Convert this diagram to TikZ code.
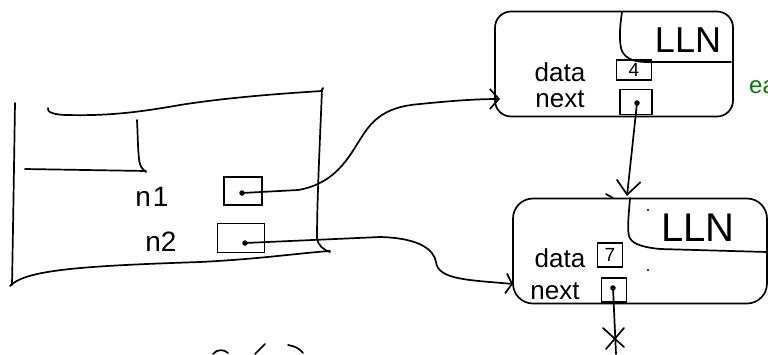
\documentclass[tikz,border=0pt]{standalone}
\usepackage{fontspec}
\setmainfont{Liberation Sans}
\usetikzlibrary{arrows.meta}
\tikzset{
  pen/.style={draw=black, line width=1.7pt, line cap=round, line join=round},
  cell/.style={draw=black, line width=1.8pt, inner sep=0pt, minimum width=#1},
  dot/.style={circle, fill=black, inner sep=0pt, minimum size=5.5pt},
  lbl/.style={font=\fontsize{26}{26}\selectfont, inner sep=0pt},
  varlbl/.style={font=\fontsize{28}{28}\selectfont, inner sep=0pt},
  small/.style={font=\fontsize{19}{19}\selectfont, inner sep=0pt},
  big/.style={font=\fontsize{#1}{#1}\selectfont, inner sep=0pt},
  objbox/.style={draw=black, line width=1.7pt, rounded corners=16pt, inner sep=0pt},
  ptr/.style={pen, -{Straight Barb[length=9pt,width=20pt,line width=1.7pt]}},
  note/.style={font=\fontsize{24}{24}\selectfont, text=green!50!black, inner sep=0pt}
}
\begin{document}
\begin{tikzpicture}[x=1pt,y=-1pt]
\useasboundingbox (0,0) rectangle (768,354);

% ---------- left frame (hand drawn) ----------
\draw[pen] (15,103) .. controls (14,170) and (13,230) .. (12,285);
\draw[pen] (10,286) .. controls (25,270) and (80,266) .. (200,262)
  .. controls (260,259) and (300,253) .. (330,251);
\draw[pen] (322,89) .. controls (320,140) and (317,200) .. (317,238)
  .. controls (318,246) and (324,250) .. (330,252);
\draw[pen] (48,108) .. controls (46,112) and (55,115) .. (67,115)
  .. controls (110,116) and (140,112) .. (180,105)
  .. controls (230,97) and (290,93) .. (322,91) -- (323,88);
\draw[pen] (137,120) .. controls (138,140) and (138,158) .. (140,164)
  .. controls (141,168) and (144,170) .. (146,172);
\draw[pen] (25,169) -- (146,171);

% ---------- variables n1, n2 ----------
\node[varlbl] (t1) at (152,197) {n\kern2pt 1};
\node[varlbl] (t2) at (161,242) {n2};
\node[cell=38pt, minimum height=28pt] (b1) at (243,191) {};
\node[cell=47pt, minimum height=29pt] (b2) at (241,238) {};
\node[dot] (d1) at (242,193) {};
\node[dot] (d2) at (245,243) {};

% ---------- upper LLN object ----------
\node[objbox, minimum width=238pt, minimum height=105pt] (top) at (614,64) {};
\draw[pen] (622,12) .. controls (620,25) and (619,38) .. (621,48)
  .. controls (623,57) and (632,62) .. (646,62) -- (731,62);
\node[big=36] (toplab) at (688,40) {LLN};
\node[lbl] (tdata) at (560,72) {data};
\node[lbl] (tnext) at (560,99) {next};
\node[cell=35pt, minimum height=20pt, small] (tval) at (634,70) {4};
\node[cell=32pt, minimum height=25pt] (tptr) at (636,102) {};
\node[dot] (d3) at (637,103) {};
\node[note, anchor=west] (ea) at (749,87) {ea};

% ---------- lower LLN object ----------
\node[objbox, minimum width=254pt, minimum height=105pt, rounded corners=20pt] (bot) at (640,251) {};
\draw[pen] (606,194) -- (613,198);
\draw[pen] (630,198) .. controls (629,212) and (627,228) .. (629,236)
  .. controls (631,243) and (640,247) .. (660,249) -- (767,252);
\node[big=40] (botlab) at (698,228) {LLN};
\node[lbl] (bdata) at (560,258) {data};
\node[lbl] (bnext) at (555,291) {next};
\node[cell=25pt, minimum height=24pt, small] (bval) at (610,255) {7};
\node[cell=25pt, minimum height=24pt] (bptr) at (614,290) {};
\node[dot] (d4) at (613,288) {};
\fill (648,210) circle (1.1pt);
\fill (648,270) circle (1.1pt);

% ---------- connector end points ----------
\coordinate (c1) at (500,99);
\coordinate (c2) at (513,284);
\coordinate (c3) at (627,196);
\coordinate (xend) at (616,354);

% ---------- pointers ----------
\draw[ptr] (d1.center) -- (298,190)
  .. controls (340,183) and (352,150) .. (365,132)
  .. controls (378,113) and (395,106) .. (420,104)
  .. controls (450,101) and (475,99) .. (c1);
\draw[ptr, -{Straight Barb[length=6pt,width=20pt,line width=1.7pt]}]
  (d2.center) -- (380,237)
  .. controls (420,238) and (434,250) .. (436,262)
  .. controls (438,280) and (470,280) .. (c2);
\draw[ptr, -{Straight Barb[length=14pt,width=24pt,line width=1.7pt]}] (d3.center) -- (c3);
\draw[pen] (d4.center) -- (xend);
\draw[pen] (603,328) -- (624,347);
\draw[pen] (624,328) -- (606,349);

% ---------- cut-off text at the bottom ----------
\draw[pen] (213,354) .. controls (217,349) and (224,349) .. (228,353);
\draw[pen] (255,354) -- (265,344);
\draw[pen] (288,345) .. controls (295,346) and (300,349) .. (303,353);
\end{tikzpicture}
\end{document}
